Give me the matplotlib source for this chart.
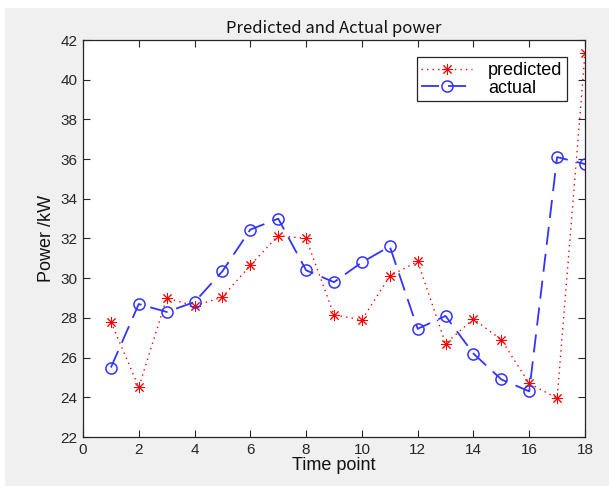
import matplotlib
matplotlib.use('Agg')
from matplotlib import pyplot as plt
from matplotlib.patches import Rectangle

time_points = list(range(1, 19))
predicted = [27.8, 24.5, 29.0, 28.6, 29.05, 30.65, 32.15, 32.0, 28.15, 27.9,
             30.1, 30.85, 26.7, 27.95, 26.9, 24.7, 23.95, 41.35]
actual = [25.5, 28.7, 28.3, 28.8, 30.35, 32.45, 33.0, 30.4, 29.8, 30.8,
          31.6, 27.45, 28.1, 26.2, 24.9, 24.3, 36.1, 35.75]

x_ticks = list(range(0, 19, 2))
y_ticks = list(range(22, 43, 2))

W, H = 609, 486
fig = plt.figure(figsize=(W / 100, H / 100), dpi=100)
fig.patch.set_facecolor('white')
# grey MATLAB figure window area
fig.patches.append(Rectangle((5 / W, 0), 1, 478 / H, transform=fig.transFigure,
                             facecolor='#f0f0f0', edgecolor='none', zorder=-10))

ax = fig.add_axes([83 / W, (H - 437) / H, 502 / W, 397 / H])
ax.set_facecolor('white')

ax.plot(time_points, predicted, color='red', linestyle=(0, (1, 3)), linewidth=1.0,
        marker=(8, 2, 0), markersize=8, markeredgewidth=0.7, label='predicted')
ax.plot(time_points, actual, color='#3333ff', linestyle=(0, (10, 5)), linewidth=1.3,
        marker='o', markersize=8, markerfacecolor='none', markeredgewidth=1.1,
        label='actual')

ax.set_xlim(0, 18)
ax.set_ylim(22, 42)
ax.set_xticks(x_ticks)
ax.set_yticks(y_ticks)

tick_font = {'family': 'Liberation Sans', 'size': 11}
ax.set_xticklabels([str(v) for v in x_ticks], fontdict=tick_font, color='#262626')
ax.set_yticklabels([str(v) for v in y_ticks], fontdict=tick_font, color='#262626')
ax.tick_params(direction='in', top=True, right=True, length=5, width=0.8,
               color='#262626', pad=4)
for s in ax.spines.values():
    s.set_color('#262626')
    s.set_linewidth(0.9)

ax.set_title('Predicted and Actual power', family='Noto Sans CJK SC', fontsize=12,
             color='#111111', pad=5)
ax.set_xlabel('Time point', family='Liberation Sans', fontsize=13, color='#111111',
              labelpad=0)
ax.set_ylabel('Power /kW', family='Liberation Sans', fontsize=13, color='#111111',
              labelpad=4)

leg = ax.legend(loc='upper right', bbox_to_anchor=(0.975, 0.97), frameon=True,
                fancybox=False, edgecolor='#262626', framealpha=1,
                prop={'family': 'Liberation Sans', 'size': 13},
                handlelength=2.8, borderpad=0.25, labelspacing=0.05, handletextpad=0.9,
                borderaxespad=0.3)
leg.get_frame().set_linewidth(0.9)

fig.savefig('out.png', dpi=100)
